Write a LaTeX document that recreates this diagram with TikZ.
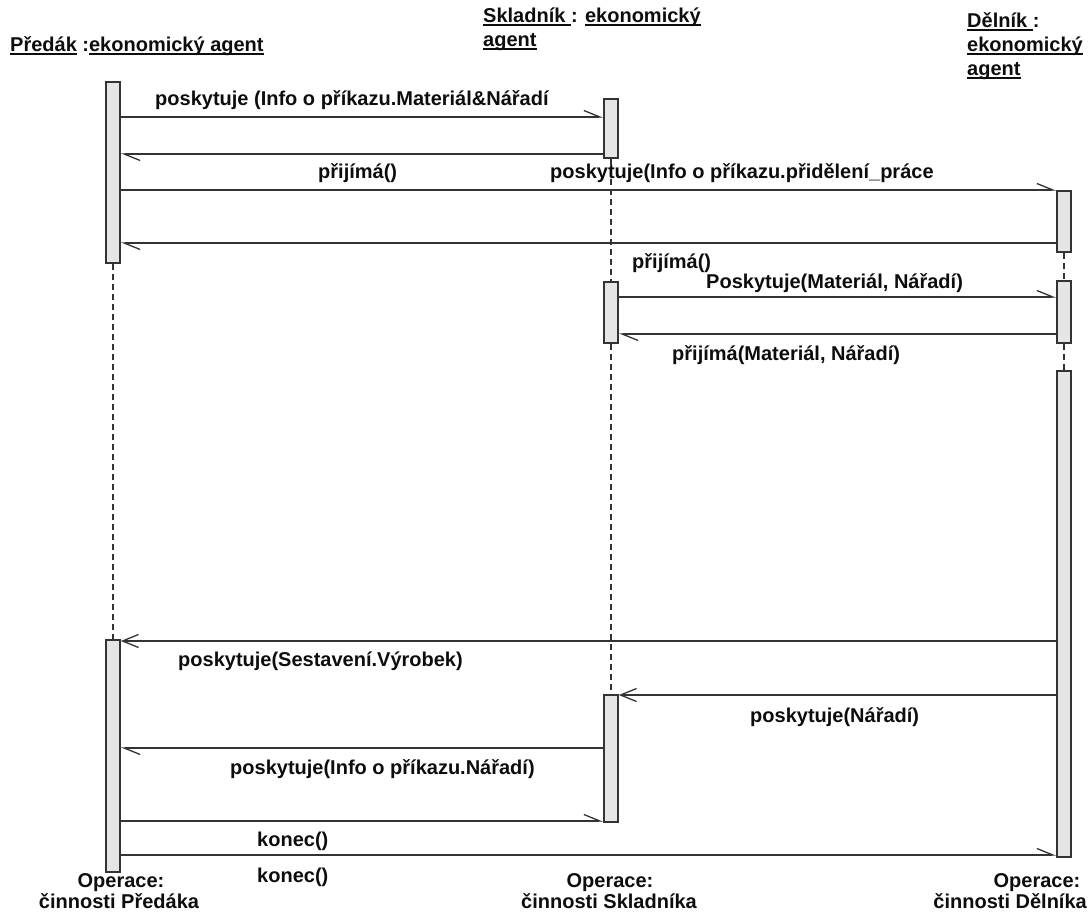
\documentclass[tikz,border=0pt]{standalone}
\usepackage{fontspec}
\setmainfont{Liberation Sans}
\usetikzlibrary{arrows.meta}
\newsavebox{\undlbox}
\newcommand{\undl}[1]{\sbox{\undlbox}{#1}\rlap{\rule[-3.5pt]{\wd\undlbox}{1.5pt}}\usebox{\undlbox}}

\begin{document}
\begin{tikzpicture}[x=1pt,y=-1pt,
    act/.style={rectangle,draw=black!80,line width=1.6pt,fill=black!10,minimum width=14pt,inner sep=0pt},
    life/.style={draw=black!80,line width=1.2pt,dash pattern=on 6pt off 4pt},
    msg/.style={draw=black!80,line width=1.3pt,-{Straight Barb[harpoon,length=16pt,width=13pt]}},
    full/.style={draw=black!80,line width=1.3pt,-{Straight Barb[length=16pt,width=13pt]}},
    lbl/.style={anchor=base west,inner sep=0pt,font=\fontsize{20}{24}\selectfont\bfseries,text=black!95},
    foot/.style={anchor=base,inner sep=0pt,font=\fontsize{20}{24}\selectfont\bfseries,text=black!95}]
        \useasboundingbox (0,0) rectangle (1088,914);

        % Draw object headers
        \node[lbl] (hp) at (10,51) {\undl{Předák} :\undl{ekonomický agent}};
        \node[lbl] (hs1) at (483,22) {\undl{Skladník }: \undl{ekonomický}};
        \node[lbl] (hs2) at (483,46) {\undl{agent}};
        \node[lbl] (hd1) at (967,27) {\undl{Dělník }:};
        \node[lbl] (hd2) at (967,51) {\undl{ekonomický}};
        \node[lbl] (hd3) at (967,75) {\undl{agent}};

        % Draw activation boxes explicitly
        \node[act,minimum height=181pt] (pa1) at (113,172.5) {};
        \node[act,minimum height=232pt] (pa2) at (113,756) {};
        \node[act,minimum height=59pt] (sa1) at (611,128.5) {};
        \node[act,minimum height=61pt] (sa2) at (611,312.5) {};
        \node[act,minimum height=127pt] (sa3) at (611,758.5) {};
        \node[act,minimum height=61pt] (da1) at (1064,221.5) {};
        \node[act,minimum height=62pt] (da2) at (1064,312) {};
        \node[act,minimum height=486pt] (da3) at (1064,614) {};

        % Draw lifelines
        \draw[life] (pa1.south) -- (pa2.north);
        \draw[life] (sa1.south) -- (sa2.north);
        \draw[life] (sa2.south) -- (sa3.north);
        \draw[life] (da1.south) -- (da2.north);
        \draw[life] (da2.south) -- (da3.north);

        % Draw messages explicitly
        \draw[msg] (pa1.east |- 0,117) -- (sa1.west |- 0,117);
        \draw[msg] (sa1.west |- 0,154) -- (pa1.east |- 0,154);
        \draw[msg] (pa1.east |- 0,190) -- (da1.west |- 0,190);
        \draw[msg] (da1.west |- 0,243) -- (pa1.east |- 0,243);
        \draw[msg] (sa2.east |- 0,297) -- (da2.west |- 0,297);
        \draw[msg] (da2.west |- 0,334) -- (sa2.east |- 0,334);
        \draw[full] (da3.west |- 0,641) -- (pa2.east |- 0,641);
        \draw[full] (da3.west |- 0,695) -- (sa3.east |- 0,695);
        \draw[msg] (sa3.west |- 0,748) -- (pa2.east |- 0,748);
        \draw[msg] (pa2.east |- 0,821) -- (sa3.west |- 0,821);
        \draw[msg] (pa2.east |- 0,855) -- (da3.west |- 0,855);

        % Draw message labels
        \node[lbl] (m1) at (155,105) {poskytuje (Info o příkazu.Materiál\&Nářadí};
        \node[lbl] (m2) at (318,178) {přijímá()};
        \node[lbl] (m3) at (550,178) {poskytuje(Info o příkazu.přidělení\_práce};
        \node[lbl] (m4) at (632,268) {přijímá()};
        \node[lbl] (m5) at (706,288) {Poskytuje(Materiál, Nářadí)};
        \node[lbl] (m6) at (672,360) {přijímá(Materiál, Nářadí)};
        \node[lbl] (m7) at (178,666) {poskytuje(Sestavení.Výrobek)};
        \node[lbl] (m8) at (750,722) {poskytuje(Nářadí)};
        \node[lbl] (m9) at (230,774) {poskytuje(Info o příkazu.Nářadí)};
        \node[lbl] (m10) at (257,846) {konec()};
        \node[lbl] (m11) at (257,882) {konec()};

        % Draw operation names
        \node[foot] (op1) at (121,887) {Operace:};
        \node[foot] (op1b) at (119,908) {činnosti Předáka};
        \node[foot] (os1) at (610,887) {Operace:};
        \node[foot] (os1b) at (609,908) {činnosti Skladníka};
        \node[foot] (od1) at (1037,887) {Operace:};
        \node[foot,anchor=base east] (od1b) at (1087,908) {činnosti Dělníka};
    \end{tikzpicture}
\end{document}
